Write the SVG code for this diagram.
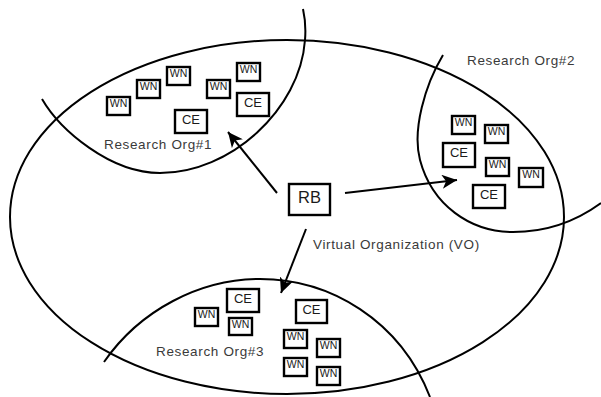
<svg xmlns="http://www.w3.org/2000/svg" width="601" height="397" viewBox="0 0 601 397">
  <style>
    .ring { fill: none; stroke: #000; stroke-width: 2; }
    .box rect { fill: #fff; stroke: #000; stroke-width: 2.4; }
    .box text { font-family: "Liberation Sans", Arial, sans-serif; fill: #1a1a1a; text-anchor: middle; }
    .wn text { font-size: 10.5px; }
    .ce text { font-size: 13px; }
    .rb text { font-size: 16.5px; }
    .label { font-family: "Liberation Sans", Arial, sans-serif; font-size: 13.5px; letter-spacing: 0.65px; fill: #3a3a3a; }
    .link { fill: none; stroke: #000; stroke-width: 2; marker-end: url(#arrow); }
  </style>
  <defs>
    <marker id="arrow" markerUnits="userSpaceOnUse" markerWidth="16" markerHeight="14" refX="15" refY="7" orient="auto">
      <path d="M0,0 L15,7 L0,14 L4,7 Z" fill="#000"/>
    </marker>
  </defs>
  <rect width="601" height="397" fill="#fff"/>

  <!-- virtual organization boundary -->
  <g id="vo">
    <ellipse class="ring" cx="287" cy="217" rx="277" ry="177"/>
    <text class="label" x="313" y="249">Virtual Organization (VO)</text>
  </g>

  <!-- research organization boundaries -->
  <g id="org1">
    <path class="ring" d="M42,99 C60,130 110,173 160,173 C230,173 300,110 305,40 C306,28 305,18 303,9"/>
    <text class="label" x="104" y="149">Research Org#1</text>
  </g>
  <g id="org2">
    <path class="ring" d="M443,55 C425,85 412,130 420,160 C432,205 470,232 513,232 C545,232 575,222 601,203"/>
    <text class="label" x="467" y="65">Research Org#2</text>
  </g>
  <g id="org3">
    <path class="ring" d="M104,362 C140,310 200,279 260,279 C330,279 400,320 430,397"/>
    <text class="label" x="156" y="356">Research Org#3</text>
  </g>

  <!-- resource broker -->
  <g id="rb" class="box rb">
    <rect x="289" y="184" width="41" height="31"/>
    <text x="309.5" y="203">RB</text>
  </g>

  <!-- org 1 resources -->
  <g id="o1-wn1" class="box wn"><rect x="107" y="97" width="23" height="18"/><text x="118.5" y="107">WN</text></g>
  <g id="o1-wn2" class="box wn"><rect x="137" y="80" width="23" height="18"/><text x="148.5" y="90">WN</text></g>
  <g id="o1-wn3" class="box wn"><rect x="167" y="67" width="23" height="18"/><text x="178.5" y="77">WN</text></g>
  <g id="o1-wn4" class="box wn"><rect x="207" y="80" width="23" height="18"/><text x="218.5" y="90">WN</text></g>
  <g id="o1-wn5" class="box wn"><rect x="237" y="63" width="23" height="18"/><text x="248.5" y="73">WN</text></g>
  <g id="o1-ce1" class="box ce"><rect x="237" y="93" width="32" height="23"/><text x="253" y="107">CE</text></g>
  <g id="o1-ce2" class="box ce"><rect x="175" y="110" width="32" height="23"/><text x="191" y="124">CE</text></g>

  <!-- org 2 resources -->
  <g id="o2-wn1" class="box wn"><rect x="452" y="116" width="23" height="18"/><text x="463.5" y="126">WN</text></g>
  <g id="o2-wn2" class="box wn"><rect x="485" y="125" width="23" height="18"/><text x="496.5" y="135">WN</text></g>
  <g id="o2-ce1" class="box ce"><rect x="443" y="143" width="32" height="24"/><text x="459" y="157">CE</text></g>
  <g id="o2-wn3" class="box wn"><rect x="486" y="158" width="23" height="18"/><text x="497.5" y="168">WN</text></g>
  <g id="o2-wn4" class="box wn"><rect x="519" y="168" width="24" height="19"/><text x="531" y="178">WN</text></g>
  <g id="o2-ce2" class="box ce"><rect x="473" y="185" width="32" height="23"/><text x="489" y="199">CE</text></g>

  <!-- org 3 resources -->
  <g id="o3-ce1" class="box ce"><rect x="227" y="289" width="32" height="23"/><text x="243" y="303">CE</text></g>
  <g id="o3-wn1" class="box wn"><rect x="195" y="308" width="23" height="18"/><text x="206.5" y="318">WN</text></g>
  <g id="o3-wn2" class="box wn"><rect x="229" y="318" width="23" height="17"/><text x="240.5" y="328">WN</text></g>
  <g id="o3-ce2" class="box ce"><rect x="296" y="300" width="31" height="23"/><text x="311.5" y="314">CE</text></g>
  <g id="o3-wn3" class="box wn"><rect x="284" y="330" width="23" height="18"/><text x="295.5" y="340">WN</text></g>
  <g id="o3-wn4" class="box wn"><rect x="284" y="358" width="23" height="18"/><text x="295.5" y="368">WN</text></g>
  <g id="o3-wn5" class="box wn"><rect x="317" y="339" width="23" height="18"/><text x="328.5" y="349">WN</text></g>
  <g id="o3-wn6" class="box wn"><rect x="317" y="367" width="23" height="18"/><text x="328.5" y="377">WN</text></g>

  <!-- dispatch arrows from the broker -->
  <g id="connectors">
    <line class="link" x1="277" y1="193" x2="228" y2="132"/>
    <line class="link" x1="345" y1="193" x2="457" y2="180"/>
    <line class="link" x1="306" y1="229" x2="281" y2="293"/>
  </g>
</svg>
